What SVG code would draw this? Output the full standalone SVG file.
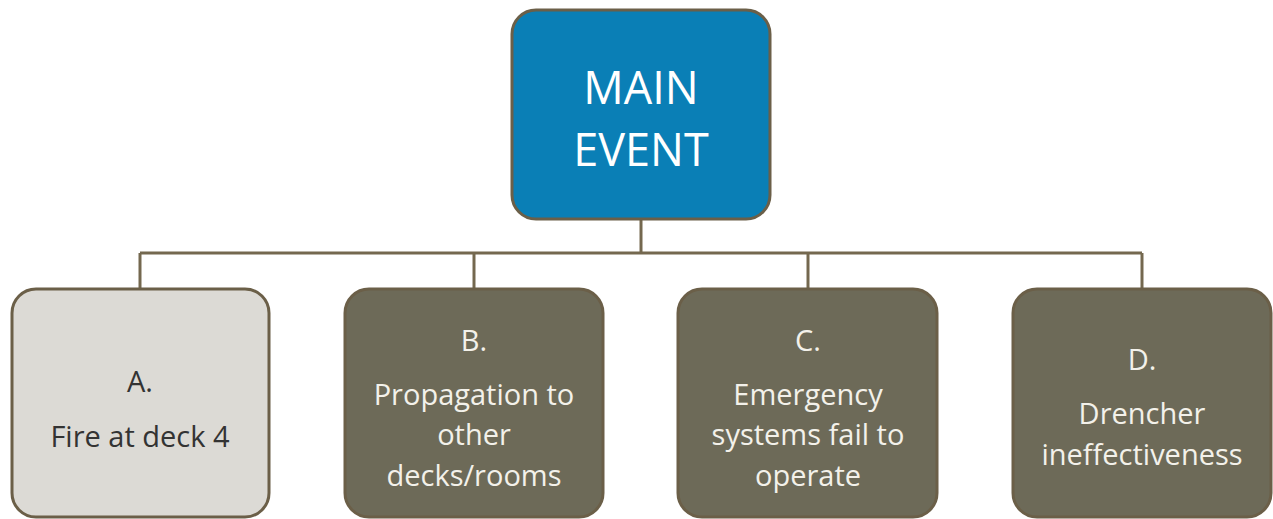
<svg xmlns="http://www.w3.org/2000/svg" width="1273" height="519" viewBox="0 0 1273 519">
  <style>
    .box { stroke: #6b5f48; stroke-width: 3; }
    .main { fill: #0a7fb6; }
    .light { fill: #dcdad5; }
    .dark { fill: #6d6a58; }
    .wire { fill: none; stroke: #74684f; stroke-width: 3; }
    text { font-family: "Open Sans", "Liberation Sans", sans-serif; text-anchor: middle; }
    .t-main { font-size: 45px; fill: #ffffff; }
    .t-light { font-size: 29px; fill: #333333; }
    .t-dark { font-size: 29px; fill: #f3f1ea; }
  </style>
  <rect width="1273" height="519" fill="#ffffff"/>

  <!-- tree connectors -->
  <g id="connectors">
    <path class="wire" d="M641 219 V253"/>
    <path class="wire" d="M140 253 H1142"/>
    <path class="wire" d="M140 253 V289"/>
    <path class="wire" d="M474 253 V289"/>
    <path class="wire" d="M808 253 V289"/>
    <path class="wire" d="M1142 253 V289"/>
  </g>

  <g id="main-event">
    <rect class="box main" x="512" y="10" width="258" height="209" rx="24"/>
    <text class="t-main" x="641" y="104">MAIN</text>
    <text class="t-main" x="641" y="166">EVENT</text>
  </g>

  <g id="node-a">
    <rect class="box light" x="12" y="289" width="257" height="228" rx="24"/>
    <text class="t-light" x="140" y="392">A.</text>
    <text class="t-light" x="140" y="447">Fire at deck 4</text>
  </g>

  <g id="node-b">
    <rect class="box dark" x="345" y="289" width="258" height="228" rx="24"/>
    <text class="t-dark" x="474" y="351">B.</text>
    <text class="t-dark" x="474" y="405">Propagation to</text>
    <text class="t-dark" x="474" y="445">other</text>
    <text class="t-dark" x="474" y="486">decks/rooms</text>
  </g>

  <g id="node-c">
    <rect class="box dark" x="678" y="289" width="259" height="228" rx="24"/>
    <text class="t-dark" x="808" y="351">C.</text>
    <text class="t-dark" x="808" y="405">Emergency</text>
    <text class="t-dark" x="808" y="445">systems fail to</text>
    <text class="t-dark" x="808" y="486">operate</text>
  </g>

  <g id="node-d">
    <rect class="box dark" x="1013" y="289" width="258" height="228" rx="24"/>
    <text class="t-dark" x="1142" y="370">D.</text>
    <text class="t-dark" x="1142" y="424">Drencher</text>
    <text class="t-dark" x="1142" y="465">ineffectiveness</text>
  </g>
</svg>
